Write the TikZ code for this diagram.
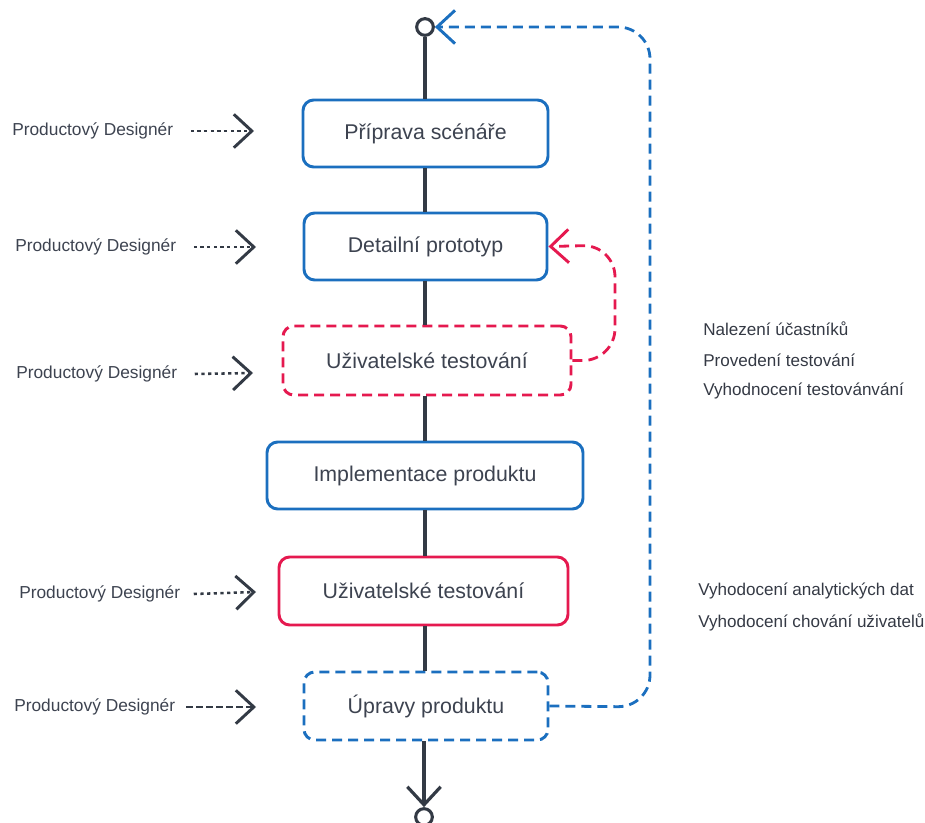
\documentclass[tikz,border=0pt]{standalone}
\usepackage{fontspec}
\setmainfont{Liberation Sans}
\usetikzlibrary{arrows.meta}
\definecolor{flowblue}{HTML}{1B6FBF}
\definecolor{flowred}{HTML}{E5194F}
\definecolor{spine}{HTML}{333A45}
\definecolor{ink}{HTML}{3D4350}
\def\pxu{0.75pt}
\tikzset{
  stage/.style={draw, line width=2.2pt, rounded corners=8pt, fill=white,
    font=\fontsize{16}{19}\selectfont, text=ink, inner sep=0pt},
  bluestage/.style={stage, draw=flowblue},
  redstage/.style={stage, draw=flowred},
  dashedstage/.style={dash pattern=on 7.5pt off 4.5pt},
  role/.style={anchor=west, font=\fontsize{13}{15}\selectfont, text=ink, inner sep=0pt},
  note/.style={anchor=west, font=\fontsize{12.8}{15}\selectfont, text=ink!85!black, inner sep=0pt},
  barb/.style={-{Straight Barb[length=13.5pt,width=25pt,line width=2.2pt]}},
  rolearrow/.style={draw=spine, line width=1.9pt, barb, dash pattern=on 2.4pt off 2.6pt},
  rolearrowlong/.style={draw=spine, line width=1.9pt, barb, dash pattern=on 5pt off 2.5pt},
  spineline/.style={draw=spine, line width=3pt},
  endcircle/.style={circle, draw=spine, line width=2.3pt, fill=white, minimum size=12.5pt, inner sep=0pt},
  loop/.style={line width=2.1pt, dash pattern=on 7.5pt off 4.5pt, rounded corners=24pt},
}
\begin{document}
\begin{tikzpicture}[x=0.75pt,y=-0.75pt]
\useasboundingbox (0,0) rectangle (925,823);
\clip (0,0) rectangle (925,823);

% stages of the process
\node[bluestage, minimum width=245*\pxu, minimum height=67*\pxu] (b1) at (425.5,133.5) {Příprava scénáře};
\node[bluestage, minimum width=243*\pxu, minimum height=67*\pxu] (b2) at (425.5,246.5) {Detailní prototyp};
\node[redstage, dashedstage, minimum width=288*\pxu, minimum height=69*\pxu] (b3) at (427,360.5) {Uživatelské testování};
\node[bluestage, minimum width=316*\pxu, minimum height=67*\pxu] (b4) at (425,475.5) {Implementace produktu};
\node[redstage, minimum width=289*\pxu, minimum height=68*\pxu] (b5) at (423.5,591) {Uživatelské testování};
\node[bluestage, dashedstage, minimum width=244*\pxu, minimum height=68*\pxu] (b6) at (426,706) {Úpravy produktu};

% start and end markers
\node[endcircle] (c1) at (425,27) {};
\node[endcircle] (c2) at (424,817) {};

% vertical spine
\draw[spineline] (c1.south) -- (c1.south |- b1.north);
\draw[spineline] (c1.south |- b1.south) -- (c1.south |- b2.north);
\draw[spineline] (c1.south |- b2.south) -- (c1.south |- b3.north);
\draw[spineline] (c1.south |- b3.south) -- (c1.south |- b4.north);
\draw[spineline] (c1.south |- b4.south) -- (c1.south |- b5.north);
\draw[spineline] (c1.south |- b5.south) -- (c1.south |- b6.north);
\draw[spineline, -{Straight Barb[length=13.5pt,width=25pt,line width=2.4pt]}] (c2.north |- b6.south) -- (c2.north);

% feedback loops
\draw[loop, draw=flowred, barb]
  (b3.east) -- (615,360.5) -- (615,245) -- (b2.east);
\draw[loop, draw=flowblue, barb]
  (b6.east) -- (650,707) -- (650,27) -- (c1.east);

% roles
\node[role] (r1) at (12,131) {Productový Designér};
\node[role] (r2) at (15,247) {Productový Designér};
\node[role] (r3) at (16,374) {Productový Designér};
\node[role] (r5) at (19,594) {Productový Designér};
\node[role] (r6) at (14,707) {Productový Designér};
\coordinate (t1) at (254,131);
\coordinate (t2) at (256,247);
\coordinate (t3) at (253,373);
\coordinate (t5) at (256,592);
\coordinate (t6) at (256,707);
\draw[rolearrow] ([xshift=13pt]r1.east) -- (t1);
\draw[rolearrow] ([xshift=13pt]r2.east) -- (t2);
\draw[rolearrow] ([xshift=13pt]r3.east) -- (t3);
\draw[rolearrow] ([xshift=10pt]r5.east) -- (t5);
\draw[rolearrowlong] ([xshift=8pt]r6.east) -- (t6);

% activity notes
\node[note] (n1) at (703,329) {Nalezení účastníků};
\node[note] (n2) at (703,360) {Provedení testování};
\node[note] (n3) at (703,391) {Vyhodnocení testovánvání};
\node[note] (n4) at (698,591) {Vyhodocení analytických dat};
\node[note] (n5) at (698,622) {Vyhodocení chování uživatelů};
\end{tikzpicture}
\end{document}
